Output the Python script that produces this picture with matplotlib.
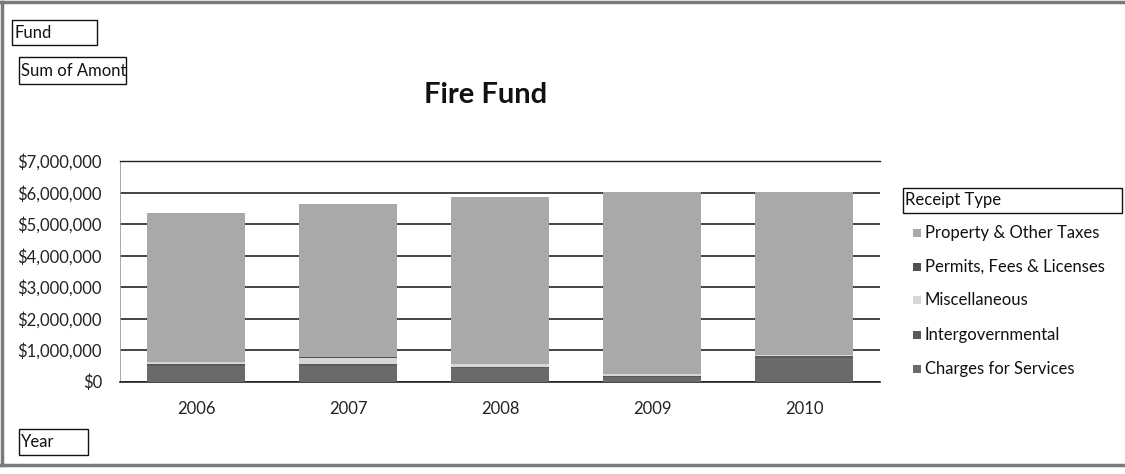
import matplotlib
matplotlib.use("Agg")
import matplotlib.pyplot as plt
from matplotlib.patches import Rectangle
from matplotlib.ticker import FuncFormatter, MultipleLocator

plt.rcParams['font.family'] = ['Lato', 'DejaVu Sans']

years = ['2006', '2007', '2008', '2009', '2010']
# stacked bottom -> top (Excel order)
charges_for_services = [500000, 510000, 430000, 140000, 760000]
intergovernmental = [50000, 55000, 50000, 40000, 70000]
miscellaneous = [60000, 200000, 70000, 50000, 20000]
permits_fees_licenses = [10000, 15000, 10000, 10000, 10000]
property_taxes = [4730000, 4870000, 5300000, 5780000, 5170000]

series = [
    ('Charges for Services', charges_for_services, '#6a6a6a'),
    ('Intergovernmental', intergovernmental, '#5a5a5a'),
    ('Miscellaneous', miscellaneous, '#d6d6d6'),
    ('Permits, Fees & Licenses', permits_fees_licenses, '#505050'),
    ('Property & Other Taxes', property_taxes, '#a9a9a9'),
]
legend_order = ['Property & Other Taxes', 'Permits, Fees & Licenses', 'Miscellaneous',
                'Intergovernmental', 'Charges for Services']

W, H = 1125, 474
fig = plt.figure(figsize=(W / 100, H / 100), dpi=100)

def fx(x):
    return x / W

def fy(y):
    return 1 - y / H

# plot area
left, right, top, bottom = 120, 880, 161, 381.7
ax = fig.add_axes([fx(left), fy(bottom), fx(right - left), (bottom - top) / H])
x = list(range(len(years)))
base = [0] * len(years)
for name, vals, col in series:
    ax.bar(x, vals, width=0.645, bottom=base, color=col, edgecolor='none', zorder=3)
    base = [b + v for b, v in zip(base, vals)]

ax.set_xlim(-0.5, len(years) - 0.5)
ax.set_ylim(0, 7000000)
ax.yaxis.set_major_locator(MultipleLocator(1000000))
ax.yaxis.set_major_formatter(FuncFormatter(lambda v, p: '${:,.0f}'.format(v)))
ax.set_xticks(x)
ax.set_xticklabels(years)
ax.grid(axis='y', color='#111111', linewidth=1.1, zorder=0)
ax.tick_params(axis='both', length=0, labelsize=12, colors='#222222')
ax.tick_params(axis='y', pad=13)
ax.tick_params(axis='x', pad=14)
ax.spines['left'].set_color('#999999')
ax.spines['left'].set_linewidth(0.6)
ax.spines['right'].set_visible(False)
ax.spines['top'].set_color('#222222')
ax.spines['top'].set_linewidth(1.0)
ax.spines['bottom'].set_color('#222222')
ax.spines['bottom'].set_linewidth(1.2)

# title
fig.text(fx(486), fy(95), 'Fire Fund', ha='center', va='center', fontsize=21,
         fontweight='bold', color='#111111')

def box(x0, y0, x1, y1, label, size=12):
    fig.patches.append(Rectangle((fx(x0), fy(y1)), fx(x1 - x0), (y1 - y0) / H,
                                 transform=fig.transFigure, fill=False,
                                 edgecolor='#111111', linewidth=1.0))
    fig.text(fx(x0 + 2), fy((y0 + y1) / 2), label,
             ha='left', va='center', fontsize=size, color='#111111')

box(12, 20, 97, 45, 'Fund')
box(19, 57, 126, 84, 'Sum of Amont')
box(19, 429, 88, 455, 'Year')
box(903, 188, 1122, 213, 'Receipt Type')

colors = {name: col for name, _, col in series}
leg_y = [233, 267, 300, 335, 369]
for name, yy in zip(legend_order, leg_y):
    fig.patches.append(Rectangle((fx(913), fy(yy + 4)), fx(8), 8 / H,
                                 transform=fig.transFigure, facecolor=colors[name],
                                 edgecolor='none'))
    fig.text(fx(925), fy(yy), name, ha='left', va='center', fontsize=12, color='#111111')

# outer frame (left, top, bottom)
frame_col = '#7a7a7a'
fig.lines.append(plt.Line2D([fx(1.5), fx(1.5)], [fy(1.5), fy(465)], transform=fig.transFigure,
                            color=frame_col, linewidth=2.5))
fig.lines.append(plt.Line2D([fx(0), fx(W)], [fy(1.5), fy(1.5)], transform=fig.transFigure,
                            color=frame_col, linewidth=2.5))
fig.lines.append(plt.Line2D([fx(0), fx(W)], [fy(465), fy(465)], transform=fig.transFigure,
                            color=frame_col, linewidth=2.5))

fig.savefig('out.png', dpi=100, facecolor='white')
